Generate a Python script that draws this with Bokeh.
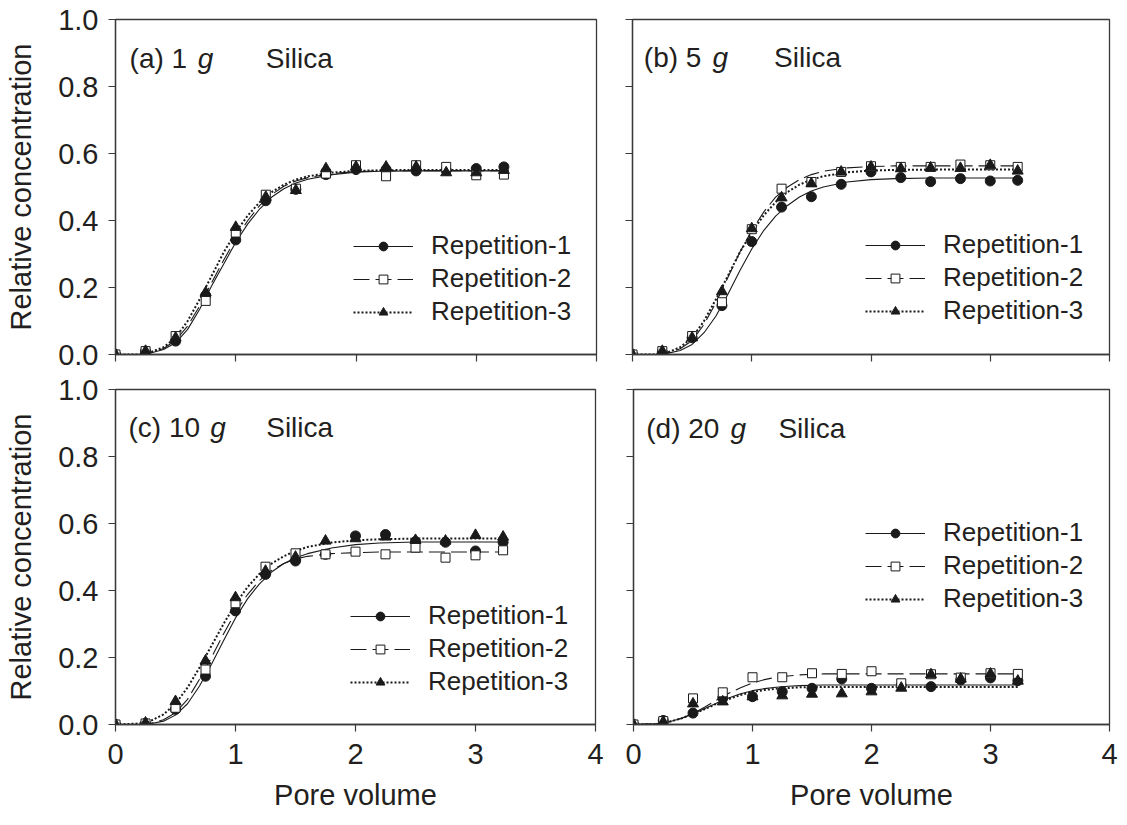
from bokeh.plotting import figure
from bokeh.models import (Label, Legend, LegendItem, FixedTicker, PrintfTickFormatter,
                          CustomJSTickFormatter, Range1d)
from bokeh.layouts import column, row
from bokeh.embed import file_html
from bokeh.resources import INLINE

# ---------------- data ----------------
x_pts = [0.0, 0.25, 0.5, 0.75, 1.0, 1.25, 1.5, 1.75, 2.0, 2.25, 2.5, 2.75, 3.0, 3.23]
x_fit = [0.0, 0.2, 0.3, 0.4, 0.5, 0.6, 0.7, 0.8, 0.9, 1.0, 1.1, 1.2, 1.3, 1.4, 1.5,
         1.6, 1.8, 2.0, 2.2, 2.5, 3.0, 3.23]

a_rep1 = [0.0, 0.01, 0.04, 0.176, 0.342, 0.459, 0.493, 0.537, 0.552, 0.552, 0.548, 0.55, 0.555, 0.56]
a_rep2 = [0.0, 0.01, 0.055, 0.16, 0.364, 0.477, 0.495, 0.54, 0.565, 0.532, 0.565, 0.56, 0.535, 0.537]
a_rep3 = [0.0, 0.01, 0.05, 0.185, 0.38, 0.47, 0.49, 0.555, 0.56, 0.56, 0.56, 0.543, 0.543, 0.55]
a_fit1 = [0, 0, 0.005, 0.015, 0.035, 0.075, 0.135, 0.205, 0.27, 0.335, 0.39, 0.435, 0.47, 0.495,
          0.512, 0.523, 0.537, 0.544, 0.547, 0.548, 0.548, 0.548]
a_fit2 = [0, 0, 0.006, 0.018, 0.042, 0.085, 0.145, 0.215, 0.282, 0.345, 0.4, 0.445, 0.478, 0.502,
          0.518, 0.528, 0.54, 0.546, 0.548, 0.549, 0.549, 0.549]
a_fit3 = [0, 0, 0.008, 0.022, 0.05, 0.1, 0.165, 0.235, 0.305, 0.365, 0.415, 0.455, 0.485, 0.507,
          0.522, 0.532, 0.543, 0.548, 0.55, 0.551, 0.551, 0.551]

b_rep1 = [0.0, 0.007, 0.05, 0.146, 0.337, 0.44, 0.471, 0.508, 0.545, 0.528, 0.516, 0.525, 0.518, 0.52]
b_rep2 = [0.0, 0.01, 0.055, 0.156, 0.374, 0.495, 0.515, 0.545, 0.562, 0.56, 0.56, 0.567, 0.565, 0.56]
b_rep3 = [0.0, 0.01, 0.05, 0.188, 0.376, 0.468, 0.51, 0.545, 0.56, 0.555, 0.557, 0.556, 0.565, 0.548]
b_fit1 = [0, 0, 0.004, 0.012, 0.03, 0.065, 0.115, 0.18, 0.25, 0.315, 0.37, 0.413, 0.445, 0.47,
          0.488, 0.5, 0.515, 0.522, 0.525, 0.527, 0.527, 0.527]
b_fit2 = [0, 0, 0.005, 0.017, 0.042, 0.09, 0.155, 0.23, 0.305, 0.37, 0.425, 0.47, 0.5, 0.522,
          0.537, 0.547, 0.557, 0.561, 0.563, 0.563, 0.563, 0.563]
b_fit3 = [0, 0, 0.007, 0.022, 0.05, 0.1, 0.165, 0.235, 0.305, 0.365, 0.415, 0.455, 0.485, 0.507,
          0.522, 0.532, 0.544, 0.549, 0.551, 0.552, 0.552, 0.552]

c_rep1 = [0.0, 0.003, 0.045, 0.144, 0.339, 0.448, 0.488, 0.508, 0.563, 0.567, 0.546, 0.544, 0.518, 0.544]
c_rep2 = [0.0, 0.003, 0.05, 0.164, 0.362, 0.471, 0.511, 0.508, 0.516, 0.508, 0.528, 0.498, 0.505, 0.52]
c_rep3 = [0.0, 0.005, 0.069, 0.19, 0.379, 0.458, 0.5, 0.548, 0.555, 0.56, 0.55, 0.548, 0.565, 0.56]
c_fit1 = [0, 0, 0.003, 0.01, 0.028, 0.062, 0.115, 0.18, 0.25, 0.318, 0.375, 0.42, 0.455, 0.48,
          0.498, 0.51, 0.527, 0.537, 0.542, 0.545, 0.545, 0.545]
c_fit2 = [0, 0, 0.004, 0.014, 0.035, 0.075, 0.135, 0.2, 0.27, 0.335, 0.388, 0.43, 0.46, 0.48,
          0.494, 0.502, 0.51, 0.513, 0.515, 0.515, 0.515, 0.515]
c_fit3 = [0, 0.003, 0.012, 0.03, 0.062, 0.11, 0.17, 0.235, 0.3, 0.36, 0.41, 0.45, 0.48, 0.502,
          0.518, 0.53, 0.543, 0.55, 0.553, 0.555, 0.555, 0.555]

d_rep1 = [0.0, 0.012, 0.034, 0.079, 0.083, 0.098, 0.108, 0.136, 0.108, 0.116, 0.113, 0.133, 0.139, 0.131]
d_rep2 = [0.0, 0.01, 0.078, 0.096, 0.141, 0.141, 0.153, 0.151, 0.159, 0.123, 0.15, 0.14, 0.153, 0.151]
d_rep3 = [0.0, 0.008, 0.062, 0.068, 0.083, 0.086, 0.091, 0.092, 0.098, 0.109, 0.149, 0.136, 0.151, 0.13]
d_fit1 = [0, 0.002, 0.008, 0.018, 0.032, 0.048, 0.064, 0.079, 0.092, 0.101, 0.107, 0.111, 0.114,
          0.116, 0.117, 0.118, 0.118, 0.118, 0.118, 0.118, 0.118, 0.118]
d_fit2 = [0, 0.002, 0.008, 0.018, 0.033, 0.052, 0.073, 0.093, 0.11, 0.124, 0.134, 0.141, 0.145,
          0.148, 0.15, 0.151, 0.151, 0.151, 0.151, 0.151, 0.151, 0.151]
d_fit3 = [0, 0.002, 0.008, 0.018, 0.031, 0.046, 0.062, 0.076, 0.088, 0.097, 0.103, 0.107, 0.109,
          0.111, 0.112, 0.112, 0.112, 0.112, 0.112, 0.112, 0.112, 0.112]

series_labels = ["Repetition-1", "Repetition-2", "Repetition-3"]
x_ticks = [0, 1, 2, 3, 4]
y_ticks = [0.0, 0.2, 0.4, 0.6, 0.8, 1.0]

FONT = "Liberation Sans"
TXT = "#231f20"
INK = "#1a1a1a"
EMPTY = CustomJSTickFormatter(code="return ''")


def panel(width, height, bl, br, bt, bb, show_x_labels, show_y_labels,
          reps, fits, title_parts, legend_loc):
    p = figure(width=width, height=height, output_backend="svg", toolbar_location=None,
               x_range=Range1d(0, 4), y_range=Range1d(0, 1),
               min_border_left=bl, min_border_right=br, min_border_top=bt, min_border_bottom=bb)
    p.grid.visible = False
    p.background_fill_color = "white"
    p.outline_line_color = "#3a3a3a"
    p.outline_line_width = 1.3
    p.outline_line_alpha = 1.0

    for ax in (p.xaxis[0], p.yaxis[0]):
        ax.axis_line_color = "#3a3a3a"
        ax.axis_line_width = 1.3
        ax.major_tick_line_color = "#3a3a3a"
        ax.major_tick_line_width = 1.2
        ax.major_tick_out = 7
        ax.major_tick_in = 0
        ax.minor_tick_line_color = None
        ax.major_label_text_font = FONT
        ax.major_label_text_color = TXT
        ax.axis_label_text_font = FONT
        ax.axis_label_text_color = TXT
        ax.axis_label_text_font_style = "normal"
        ax.axis_label_text_font_size = "29px"

    p.xaxis.ticker = FixedTicker(ticks=x_ticks)
    p.yaxis.ticker = FixedTicker(ticks=y_ticks)

    if show_x_labels:
        p.xaxis.formatter = PrintfTickFormatter(format="%d")
        p.xaxis.major_label_text_font_size = "29px"
        p.xaxis.major_label_standoff = 12
        p.xaxis.axis_label = "Pore volume"
        p.xaxis.axis_label_standoff = 12
    else:
        p.xaxis.formatter = EMPTY
        p.xaxis.major_label_text_font_size = "2px"
        p.xaxis.major_label_standoff = 0
    if show_y_labels:
        p.yaxis.formatter = PrintfTickFormatter(format="%.1f")
        p.yaxis.major_label_text_font_size = "29px"
        p.yaxis.major_label_standoff = 10
        p.yaxis.axis_label = "Relative concentration"
        p.yaxis.axis_label_standoff = 18
    else:
        p.yaxis.formatter = EMPTY
        p.yaxis.major_label_text_font_size = "2px"
        p.yaxis.major_label_standoff = 0

    styles = [
        dict(dash="solid", lw=1.1, marker="circle", size=10, fill=INK),
        dict(dash="16 6", lw=1.1, marker="square", size=9, fill="white"),
        dict(dash="2 2", lw=2.0, marker="triangle", size=11, fill=INK),
    ]
    line_rs = []
    for fit, st in zip(fits, styles):
        r = p.line(x_fit, fit, line_color=INK, line_width=st["lw"], line_dash=st["dash"])
        line_rs.append(r)
    items = []
    for rep, st, lr, lab in zip(reps, styles, line_rs, series_labels):
        s = p.scatter(x_pts, rep, marker=st["marker"], size=st["size"],
                      fill_color=st["fill"], line_color=INK, line_width=1.0)
        items.append(LegendItem(label=lab, renderers=[lr, s]))

    legend = Legend(items=items, location=legend_loc, orientation="vertical",
                    label_text_font=FONT, label_text_font_size="26px",
                    label_text_color=TXT, border_line_color=None,
                    background_fill_alpha=0.0, glyph_width=60, glyph_height=22,
                    label_height=33, spacing=0, padding=0, margin=0, label_standoff=18)
    p.add_layout(legend)

    (tx1, t1), (tx2, t2), (tx3, t3), ty = title_parts
    p.add_layout(Label(x=tx1, y=ty, text=t1, text_font=FONT, text_font_size="28px",
                       text_color=TXT, text_baseline="alphabetic"))
    p.add_layout(Label(x=tx2, y=ty, text=t2, text_font=FONT, text_font_size="28px",
                       text_font_style="italic", text_color=TXT, text_baseline="alphabetic"))
    p.add_layout(Label(x=tx3, y=ty, text=t3, text_font=FONT, text_font_size="28px",
                       text_color=TXT, text_baseline="alphabetic"))
    return p


pa = panel(598, 372, 115, 2, 19, 16, False, True,
           [a_rep1, a_rep2, a_rep3], [a_fit1, a_fit2, a_fit3],
           ((0.117, "(a) 1"), (0.683, "g"), (1.25, "Silica"), 0.885), (238, 26))
pb = panel(529, 372, 34, 18, 18, 18, False, False,
           [b_rep1, b_rep2, b_rep3], [b_fit1, b_fit2, b_fit3],
           ((0.095, "(b) 5"), (0.67, "g"), (1.187, "Silica"), 0.886), (233, 27))
pc = panel(612, 453, 115, 17, 17, 100, True, True,
           [c_rep1, c_rep2, c_rep3], [c_fit1, c_fit2, c_fit3],
           ((0.108, "(c) 10"), (0.79, "g"), (1.256, "Silica"), 0.887), (235, 26))
pd_ = panel(515, 453, 21, 18, 16, 101, True, False,
            [d_rep1, d_rep2, d_rep3], [d_fit1, d_fit2, d_fit3],
            ((0.107, "(d) 20"), (0.815, "g"), (1.218, "Silica"), 0.885), (232, 109))

layout = column(row(pa, pb), row(pc, pd_))
open("out.html", "w").write(file_html(layout, INLINE))
